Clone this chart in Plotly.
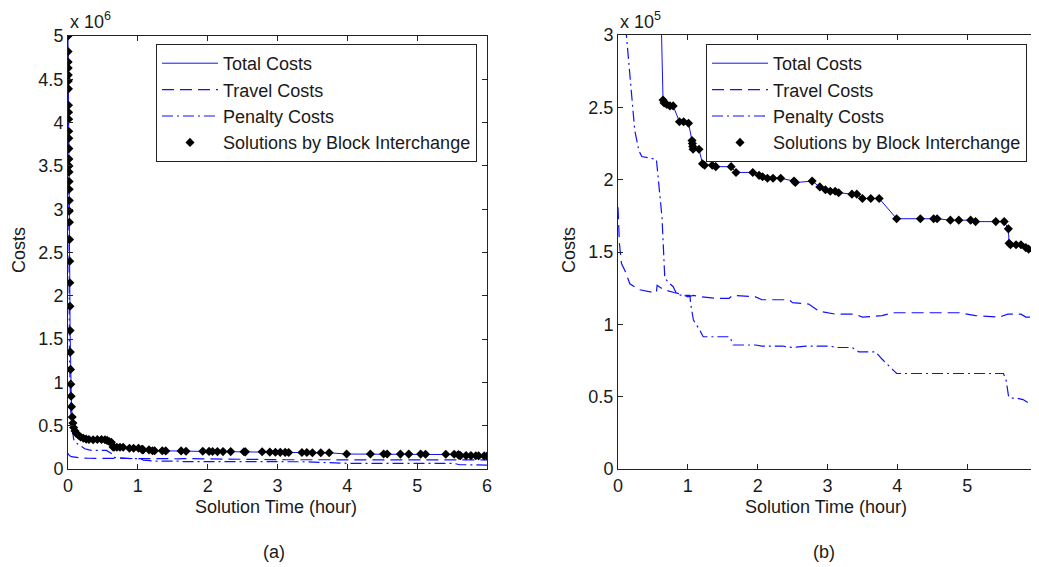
import plotly.graph_objects as go

# ---------------- data (costs in units of 10^5) ----------------
total_time = [0.000, 0.001, 0.002, 0.003, 0.004, 0.005, 0.006, 0.007, 0.008, 0.009,
              0.010, 0.011, 0.012, 0.013, 0.014, 0.015, 0.016, 0.017, 0.018, 0.019,
              0.020, 0.022, 0.024, 0.026, 0.028, 0.030, 0.033, 0.036, 0.040, 0.045,
              0.050, 0.060, 0.070, 0.080, 0.100, 0.120, 0.150, 0.180, 0.220, 0.260,
              0.300, 0.360, 0.420, 0.480, 0.530, 0.560, 0.590, 0.620,
              0.645, 0.660, 0.700, 0.745, 0.790, 0.880, 0.940, 1.010, 1.060, 1.065,
              1.070, 1.075, 1.160, 1.210, 1.240, 1.350, 1.400, 1.620, 1.690, 1.930,
              2.020, 2.070, 2.140, 2.220, 2.330, 2.520, 2.540, 2.780, 2.890, 2.970,
              3.040, 3.110, 3.160, 3.350, 3.420, 3.500, 3.620, 3.740, 3.990, 4.330,
              4.520, 4.570, 4.760, 4.880, 5.050, 5.120, 5.410, 5.530, 5.590, 5.600,
              5.620, 5.700, 5.770, 5.840, 5.880, 5.960, 6.000]
total_cost = [50.0, 48.2, 47.0, 46.3, 45.5, 44.8, 43.9, 42.0, 41.2, 40.4,
              39.0, 38.2, 37.0, 35.8, 35.0, 34.3, 33.2, 32.3, 31.0, 29.8,
              28.5, 26.5, 24.0, 21.5, 18.8, 16.0, 13.5, 11.5, 9.8, 8.4,
              7.2, 6.0, 5.3, 4.8, 4.4, 4.1, 3.9, 3.7, 3.55, 3.45,
              3.40, 3.38, 3.40, 3.40, 3.38, 3.30, 3.18, 3.08,
              2.55, 2.53, 2.52, 2.51, 2.51, 2.40, 2.40, 2.39, 2.27, 2.25,
              2.23, 2.21, 2.21, 2.11, 2.10, 2.10, 2.09, 2.09, 2.05, 2.05,
              2.03, 2.02, 2.01, 2.01, 2.01, 1.99, 1.98, 1.99, 1.95, 1.93,
              1.92, 1.92, 1.91, 1.90, 1.90, 1.87, 1.87, 1.87, 1.73, 1.73,
              1.73, 1.73, 1.72, 1.72, 1.72, 1.71, 1.71, 1.71, 1.66, 1.56,
              1.55, 1.55, 1.55, 1.53, 1.52, 1.51, 1.50]

travel_time = [0.00, 0.01, 0.02, 0.05, 0.10, 0.17, 0.30, 0.50, 0.55, 0.56, 0.65, 0.80,
               0.90, 1.00, 1.08, 1.19, 1.40, 1.59, 1.64, 1.97, 2.06, 2.45, 2.50, 2.73,
               2.88, 3.12, 3.40, 3.50, 3.78, 3.93, 4.89, 5.12, 5.46, 5.58, 5.77, 5.84, 6.00]
travel_cost = [1.81, 1.70, 1.56, 1.42, 1.37, 1.28, 1.24, 1.22, 1.22, 1.27, 1.24, 1.22,
               1.21, 1.19, 1.20, 1.19, 1.18, 1.18, 1.20, 1.19, 1.17, 1.17, 1.15, 1.14,
               1.09, 1.07, 1.07, 1.05, 1.06, 1.08, 1.08, 1.06, 1.05, 1.07, 1.07, 1.05, 1.05]

penalty_time = [0.00, 0.01, 0.02, 0.03, 0.04, 0.05, 0.06, 0.08, 0.10, 0.12, 0.17, 0.24,
                0.30, 0.34, 0.55, 0.56, 0.63, 0.67, 0.72, 0.79, 0.84, 0.91, 1.03, 1.04,
                1.08, 1.17, 1.22, 1.60, 1.62, 1.65, 1.97, 2.06, 2.35, 2.50, 2.69, 3.03,
                3.12, 3.35, 3.45, 3.69, 3.78, 3.90, 3.99, 5.52, 5.56, 5.59, 5.61, 5.70,
                5.80, 5.90, 5.94, 6.00]
penalty_cost = [48.2, 37.0, 13.5, 9.4, 6.7, 5.6, 4.6, 3.45, 3.10, 3.00, 2.71, 2.34,
                2.20, 2.16, 2.14, 2.09, 1.74, 1.32, 1.29, 1.26, 1.21, 1.20, 1.20, 1.145,
                1.03, 0.96, 0.914, 0.914, 0.89, 0.857, 0.857, 0.85, 0.85, 0.84, 0.85, 0.85,
                0.84, 0.84, 0.81, 0.81, 0.76, 0.70, 0.66, 0.66, 0.61, 0.51, 0.49, 0.49,
                0.48, 0.45, 0.46, 0.45]

x_ticks = [0, 1, 2, 3, 4, 5, 6]
left_y_ticks = [0, 5, 10, 15, 20, 25, 30, 35, 40, 45, 50]
left_y_labels = ["0", "0.5", "1", "1.5", "2", "2.5", "3", "3.5", "4", "4.5", "5"]
right_y_ticks = [0, 0.5, 1, 1.5, 2, 2.5, 3]
right_y_labels = ["0", "0.5", "1", "1.5", "2", "2.5", "3"]

names = ["Total Costs", "Travel Costs", "Penalty Costs", "Solutions by Block Interchange"]

# ---------------- figure ----------------
OFF = 8                      # page body margin
W, H = 1039, 567 - OFF
FONT = "Liberation Sans, Arial, sans-serif"
FS = 18
BLUE = "#1010ff"
TXT = "#1a1a1a"

def px(x):
    return (x - OFF) / W

def py(y):
    return 1 - (y - OFF) / H

fig = go.Figure()
for i, (xa, ya, lg) in enumerate([("x", "y", "legend"), ("x2", "y2", "legend2")]):
    fig.add_trace(go.Scatter(x=total_time, y=total_cost, mode="lines", name=names[0],
                             line=dict(color=BLUE, width=1), xaxis=xa, yaxis=ya,
                             legend=lg, legendgroup=f"a{i}"))
    fig.add_trace(go.Scatter(x=travel_time, y=travel_cost, mode="lines", name=names[1],
                             line=dict(color=BLUE, width=1.2, dash="12px,6px"), xaxis=xa, yaxis=ya,
                             legend=lg, legendgroup=f"b{i}"))
    fig.add_trace(go.Scatter(x=penalty_time, y=penalty_cost, mode="lines", name=names[2],
                             line=dict(color=BLUE, width=1.2, dash="11px,4px,2px,4px"), xaxis=xa, yaxis=ya,
                             legend=lg, legendgroup=f"c{i}"))
    fig.add_trace(go.Scatter(x=total_time, y=total_cost, mode="markers", name=names[3],
                             marker=dict(symbol="diamond", size=7, color="black"),
                             xaxis=xa, yaxis=ya, legend=lg, legendgroup=f"d{i}"))

axis_common = dict(showgrid=False, zeroline=False, showline=True, linecolor="#222",
                   linewidth=1, mirror="ticks", ticks="inside", ticklen=5, tickcolor="#222",
                   automargin=False,
                   tickfont=dict(family=FONT, size=FS, color=TXT))

legend_common = dict(xanchor="left", yanchor="top", bgcolor="white",
                     bordercolor="#222", borderwidth=1, tracegroupgap=0,
                     itemwidth=56,
                     font=dict(family=FONT, size=FS, color=TXT))

fig.update_layout(
    width=W, height=H, margin=dict(l=0, r=0, t=0, b=0, autoexpand=False),
    paper_bgcolor="white", plot_bgcolor="white",
    font=dict(family=FONT, size=FS, color=TXT),
    xaxis=dict(domain=[px(68), px(487)], range=[0, 6], tickvals=x_ticks, anchor="y", **axis_common),
    yaxis=dict(domain=[py(469), py(36)], range=[0, 50], tickvals=left_y_ticks,
               ticktext=left_y_labels, anchor="x", **axis_common),
    xaxis2=dict(domain=[px(618), px(1037)], range=[0, 6], tickvals=x_ticks, anchor="y2", **axis_common),
    yaxis2=dict(domain=[py(469), py(35)], range=[0, 3], tickvals=right_y_ticks,
                ticktext=right_y_labels, anchor="x2", **axis_common),
    legend=dict(x=px(156), y=py(44), **legend_common),
    legend2=dict(x=px(706), y=py(44), **legend_common),
    showlegend=True,
)

annos = [
    ("x 10<sup>6</sup>", 68, 20, "left"),
    ("x 10<sup>5</sup>", 618, 20, "left"),
    ("Solution Time (hour)", 276, 507, "center"),
    ("Solution Time (hour)", 826, 507, "center"),
    ("(a)", 274, 552, "center"),
    ("(b)", 824, 552, "center"),
]
for text, x, y, xa in annos:
    fig.add_annotation(text=text, x=px(x), y=py(y), xref="paper", yref="paper",
                       xanchor=xa, yanchor="middle", showarrow=False,
                       font=dict(family=FONT, size=FS, color=TXT))
for x in (19, 569):
    fig.add_annotation(text="Costs", x=px(x), y=py(250), xref="paper", yref="paper",
                       xanchor="center", yanchor="middle", showarrow=False, textangle=-90,
                       font=dict(family=FONT, size=FS, color=TXT))

fig.write_html("out.html")
